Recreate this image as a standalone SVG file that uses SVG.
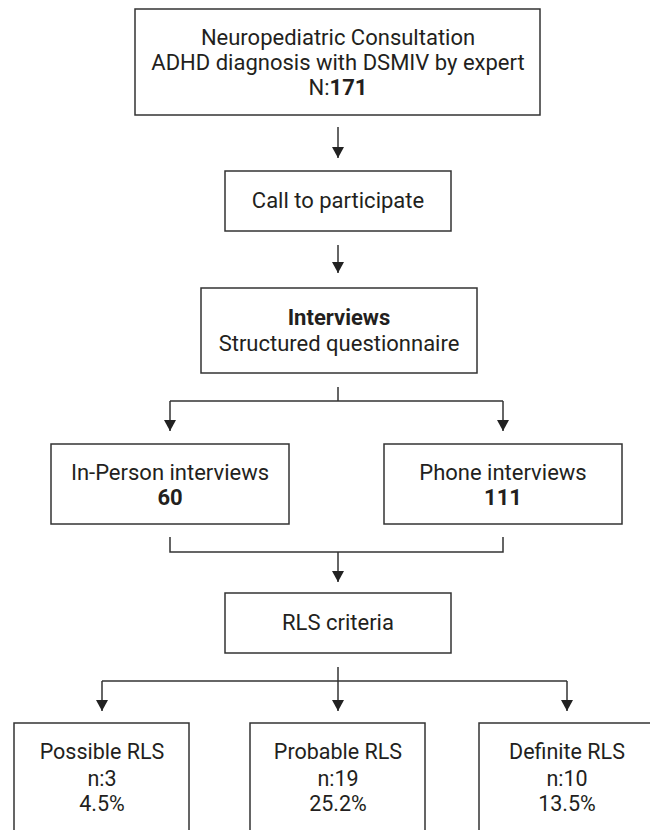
<svg xmlns="http://www.w3.org/2000/svg" width="650" height="830" viewBox="0 0 650 830">
<style>
.box{fill:#fff;stroke:#333;stroke-width:1.5}
.t{font-family:Roboto,"Liberation Sans",sans-serif;font-size:22px;fill:#231f20;text-anchor:middle}
.s{font-size:21.5px}
.b{font-weight:bold}
.c{fill:none;stroke:#333;stroke-width:1.5}
</style>
<defs>
<marker id="ah" viewBox="0 0 11 12" refX="11" refY="6" markerWidth="11" markerHeight="12" markerUnits="userSpaceOnUse" orient="auto">
<path d="M0,0 L11,6 L0,12 z" fill="#222"/>
</marker>
</defs>
<rect width="650" height="830" fill="#fff"/>
<g id="connectors">
<path class="c" d="M338,127 V158" marker-end="url(#ah)"/>
<path class="c" d="M338,245 V273" marker-end="url(#ah)"/>
<path class="c" d="M338,387 V401 M170,401 H503"/>
<path class="c" d="M170,401 V431" marker-end="url(#ah)"/>
<path class="c" d="M503,401 V431" marker-end="url(#ah)"/>
<path class="c" d="M170,537 V552 H503 V537"/>
<path class="c" d="M338,552 V582" marker-end="url(#ah)"/>
<path class="c" d="M102,681 H567"/>
<path class="c" d="M338,667 V711" marker-end="url(#ah)"/>
<path class="c" d="M102,681 V711" marker-end="url(#ah)"/>
<path class="c" d="M567,681 V711" marker-end="url(#ah)"/>
</g>
<g id="consultation">
<rect class="box" x="135" y="9" width="405" height="106"/>
<text class="t" x="338" y="45">Neuropediatric Consultation</text>
<text class="t" x="338" y="70">ADHD diagnosis with DSMIV by expert</text>
<text class="t" x="338" y="95">N:<tspan class="b">171</tspan></text>
</g>
<g id="call">
<rect class="box" x="225" y="171" width="226" height="60"/>
<text class="t" x="338" y="208">Call to participate</text>
</g>
<g id="interviews">
<rect class="box" x="201" y="288" width="276" height="85"/>
<text class="t b" x="339" y="325">Interviews</text>
<text class="t" x="339" y="351">Structured questionnaire</text>
</g>
<g id="inperson">
<rect class="box" x="51" y="444" width="238" height="80"/>
<text class="t" x="170" y="480">In-Person interviews</text>
<text class="t b" x="170" y="505">60</text>
</g>
<g id="phone">
<rect class="box" x="384" y="444" width="238" height="80"/>
<text class="t" x="503" y="480">Phone interviews</text>
<text class="t b" x="503" y="505">111</text>
</g>
<g id="rls">
<rect class="box" x="225" y="593" width="226" height="60"/>
<text class="t" x="338" y="630">RLS criteria</text>
</g>
<g id="possible">
<rect class="box" x="14" y="723" width="175" height="130"/>
<text class="t s" x="102" y="759">Possible RLS</text>
<text class="t s" x="102" y="786">n:3</text>
<text class="t s" x="102" y="811">4.5%</text>
</g>
<g id="probable">
<rect class="box" x="250" y="723" width="175" height="130"/>
<text class="t s" x="338" y="759">Probable RLS</text>
<text class="t s" x="338" y="786">n:19</text>
<text class="t s" x="338" y="811">25.2%</text>
</g>
<g id="definite">
<rect class="box" x="479" y="723" width="180" height="130"/>
<text class="t s" x="567" y="759">Definite RLS</text>
<text class="t s" x="567" y="786">n:10</text>
<text class="t s" x="567" y="811">13.5%</text>
</g>
</svg>
